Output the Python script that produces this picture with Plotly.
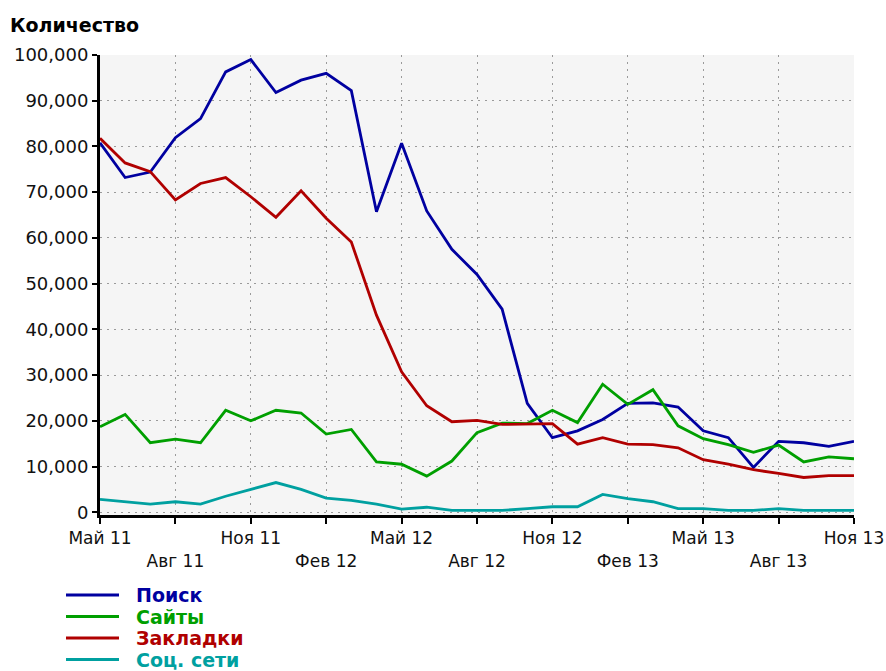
import plotly.graph_objects as go

months = ["Май 11", "Июн 11", "Июл 11", "Авг 11", "Сен 11", "Окт 11", "Ноя 11", "Дек 11",
          "Янв 12", "Фев 12", "Мар 12", "Апр 12", "Май 12", "Июн 12", "Июл 12", "Авг 12",
          "Сен 12", "Окт 12", "Ноя 12", "Дек 12", "Янв 13", "Фев 13", "Мар 13", "Апр 13",
          "Май 13", "Июн 13", "Июл 13", "Авг 13", "Сен 13", "Окт 13", "Ноя 13"]

poisk = [80800, 73200, 74400, 81900, 86100, 96300, 99000, 91800, 94500, 96000, 92200, 65700,
         80700, 65900, 57500, 52000, 44400, 23800, 16300, 17800, 20300, 23800, 23900, 23000,
         17800, 16300, 9800, 15500, 15200, 14400, 15500]
saity = [18700, 21400, 15200, 16000, 15200, 22300, 20000, 22300, 21700, 17100, 18100, 11000,
         10500, 7900, 11200, 17400, 19500, 19400, 22300, 19600, 28000, 23600, 26800, 18900,
         16100, 14800, 13100, 14700, 11000, 12100, 11700]
zakladki = [81800, 76400, 74500, 68300, 71900, 73200, 69000, 64500, 70300, 64300, 59100, 43100,
            30700, 23300, 19800, 20100, 19200, 19300, 19400, 14900, 16300, 14900, 14800, 14100,
            11500, 10500, 9300, 8500, 7600, 8000, 8000]
soc = [2800, 2300, 1800, 2300, 1800, 3500, 5000, 6500, 5000, 3100, 2600, 1800,
       700, 1100, 400, 400, 400, 800, 1200, 1200, 3900, 3000, 2300, 800,
       800, 400, 400, 800, 400, 400, 400]

series_names = ["Поиск", "Сайты", "Закладки", "Соц. сети"]
series_colors = ["#0000a0", "#009f00", "#b00000", "#00a0a0"]
series_values = [poisk, saity, zakladki, soc]

tick_months = months[::3]
tick_text = [m if i % 2 == 0 else "<br>" + m for i, m in enumerate(tick_months)]

fig = go.Figure()
for name, color, vals in zip(series_names, series_colors, series_values):
    fig.add_trace(go.Scatter(x=months, y=vals, mode="lines", name=name,
                             line=dict(color=color, width=2.8), showlegend=False))

W, H = 886, 671
L, R, T, B = 100, 32, 55, 156
pw, ph = W - L - R, H - T - B

def px(xp):
    return (xp - L) / pw

def py(yp):
    return (H - B - yp) / ph

leg_y = [595, 616.5, 638, 659.5]
for name, color, yy in zip(series_names, series_colors, leg_y):
    fig.add_shape(type="line", xref="paper", yref="paper",
                  x0=px(66), x1=px(119), y0=py(yy), y1=py(yy),
                  line=dict(color=color, width=3))
    fig.add_annotation(xref="paper", yref="paper", x=px(134), y=py(yy),
                       xanchor="left", yanchor="middle", showarrow=False,
                       text="<b>" + name + "</b>",
                       font=dict(family="DejaVu Sans", size=19, color=color))

grid = dict(showgrid=True, gridcolor="#9a9a9a", griddash="2px,5px", gridwidth=1)

fig.update_layout(
    width=W, height=H,
    margin=dict(l=L, r=R, t=T, b=B, autoexpand=False),
    paper_bgcolor="white", plot_bgcolor="#f5f5f5",
    font=dict(family="DejaVu Sans", size=17, color="#111111"),
    title=dict(text="<b>Количество</b>", xref="container", yref="container",
               x=10 / W, xanchor="left", y=1 - 25 / H, yanchor="middle",
               font=dict(family="DejaVu Sans", size=19, color="black")),
    xaxis=dict(type="category", range=[0, len(months) - 1],
               tickmode="array", tickvals=tick_months, ticktext=tick_text,
               showline=True, linecolor="black", linewidth=3,
               ticks="outside", ticklen=6, tickwidth=2, tickcolor="black",
               tickangle=0, zeroline=False, tickfont=dict(size=17), **grid),
    yaxis=dict(range=[-600, 100000], tickvals=list(range(0, 100001, 10000)),
               tickformat=",d",
               showline=True, linecolor="black", linewidth=3,
               ticks="outside", ticklen=5, tickwidth=1.5, tickcolor="black",
               zeroline=False, tickfont=dict(size=18), **grid),
)

fig.write_html("out.html", config={"displayModeBar": False},
               post_script="document.body.style.margin='0';document.body.style.overflow='hidden';")
